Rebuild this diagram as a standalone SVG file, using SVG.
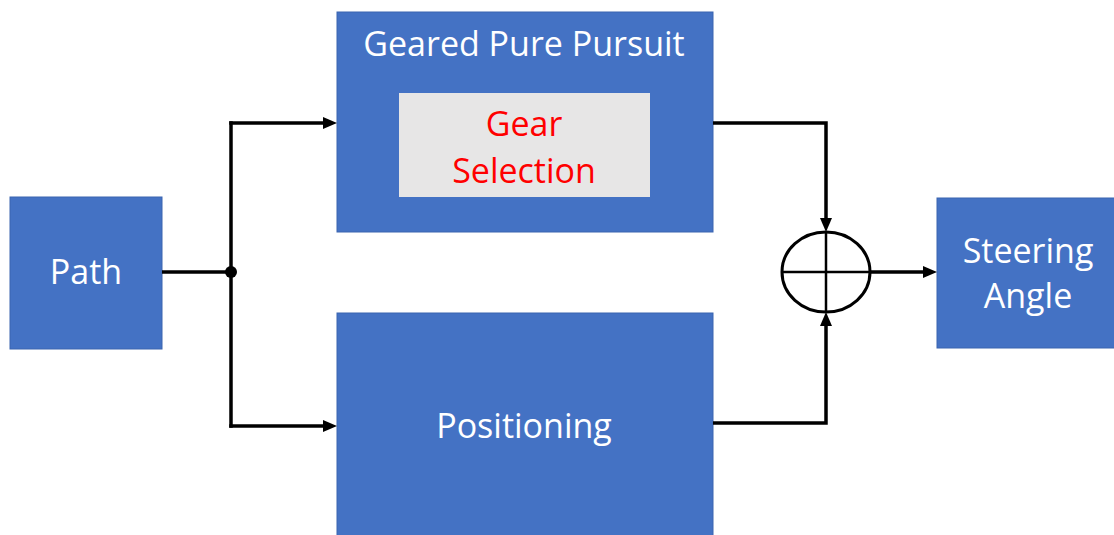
<svg xmlns="http://www.w3.org/2000/svg" width="1114" height="535" viewBox="0 0 1114 535">
  <defs>
    <!-- filled arrowhead; tip sits 10px beyond the line end -->
    <marker id="arrow" viewBox="0 0 14 12" refX="4" refY="6" markerWidth="14" markerHeight="12" markerUnits="userSpaceOnUse" orient="auto">
      <path d="M0,0 L14,6 L0,12 z" fill="#000"/>
    </marker>
    <style>
      .block { fill: #4472C4; stroke: #3A64B0; stroke-width: 1; }
      .inner { fill: #E7E6E6; }
      .label { font-family: "Open Sans", "Noto Sans", sans-serif; font-size: 34px; fill: #FFFFFF; text-anchor: middle; }
      .red { fill: #FF0000; }
      .wire { fill: none; stroke: #000; stroke-width: 3.5; }
      .sum { fill: #FFFFFF; stroke: #000; stroke-width: 3; }
      .cross { stroke: #000; stroke-width: 2.5; }
    </style>
  </defs>
  <rect width="1114" height="535" fill="#FFFFFF"/>

  <g id="path">
    <rect class="block" x="10" y="197" width="152" height="152"/>
    <text class="label" x="86" y="284">Path</text>
  </g>

  <g id="geared-pure-pursuit">
    <rect class="block" x="337" y="12" width="376" height="220"/>
    <text class="label" x="524" y="56">Geared Pure Pursuit</text>
  </g>

  <g id="gear-selection">
    <rect class="inner" x="399" y="93" width="251" height="104"/>
    <text class="label red" x="524" y="136">Gear</text>
    <text class="label red" x="524" y="183">Selection</text>
  </g>

  <g id="positioning">
    <rect class="block" x="337" y="313" width="376" height="230"/>
    <text class="label" x="524" y="438">Positioning</text>
  </g>

  <g id="summing-junction">
    <ellipse class="sum" cx="826" cy="272" rx="44" ry="40"/>
    <line class="cross" x1="782" y1="272" x2="870" y2="272"/>
    <line class="cross" x1="826" y1="232" x2="826" y2="312"/>
  </g>

  <g id="steering-angle">
    <rect class="block" x="937" y="198" width="185" height="150"/>
    <text class="label" x="1028" y="263">Steering</text>
    <text class="label" x="1028" y="308">Angle</text>
  </g>

  <g id="connectors">
    <path class="wire" d="M162,272 H231"/>
    <path class="wire" d="M231,121.25 V427.75"/>
    <circle cx="231" cy="272" r="6" fill="#000"/>
    <path class="wire" d="M229.25,123 H327" marker-end="url(#arrow)"/>
    <path class="wire" d="M229.25,426 H327" marker-end="url(#arrow)"/>
    <path class="wire" d="M713,123 H826 V222" marker-end="url(#arrow)"/>
    <path class="wire" d="M713,423 H826 V322" marker-end="url(#arrow)"/>
    <path class="wire" d="M870,272 H927" marker-end="url(#arrow)"/>
  </g>
</svg>
